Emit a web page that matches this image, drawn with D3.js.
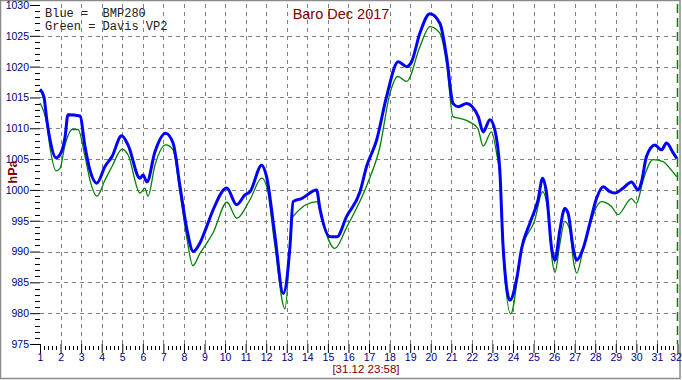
<html lang="en"><head>
<meta charset="utf-8">
<title>Baro Dec 2017</title>
<script src="https://d3js.org/d3.v7.min.js"></script>
<style>
  body { margin: 0; background: #fff; }
  svg { display: block; }
</style>
</head>
<body>
<div id="chart"></div>
<script>

// BMP280 (blue) readings: day of month -> hPa
const bmpDays = [1.00, 1.19, 1.33, 1.49, 1.78, 1.97, 2.22, 2.36, 2.94, 3.19, 3.43, 3.76, 4.16, 4.50, 4.97, 5.28, 5.86, 6.01, 6.20, 6.59,
  7.11, 7.47, 7.81, 8.15, 8.45, 8.78, 9.10, 9.41, 10.08, 10.56, 10.97, 11.21, 11.78, 12.02, 12.42, 12.83, 13.15, 13.31, 13.72, 14.45,
  14.61, 15.10, 15.44, 15.91, 16.56, 16.88, 17.37, 17.85, 18.42, 18.83, 19.07, 19.47, 19.96, 20.45, 20.77, 21.09, 21.34, 21.74, 22.31, 22.55,
  22.88, 23.12, 23.36, 23.52, 23.85, 24.17, 24.42, 24.82, 25.22, 25.44, 25.63, 25.88, 26.04, 26.28, 26.52, 26.68, 26.93, 27.09, 27.41, 27.74,
  28.06, 28.39, 28.71, 28.95, 29.36, 29.76, 30.09, 30.25, 30.49, 30.90, 31.22, 31.47, 31.79, 31.97];
const bmpValues = [1016.3, 1015.1, 1011.4, 1008.1, 1005.2, 1005.7, 1008.6, 1012.2, 1012.0, 1007.0, 1003.2, 1001.1, 1003.8, 1005.4, 1008.8, 1007.3, 1001.9, 1002.4, 1001.3, 1006.2,
  1009.2, 1007.6, 1000.5, 993.5, 990.0, 991.4, 994.0, 996.7, 1000.3, 997.6, 999.2, 999.7, 1004.0, 1002.1, 992.7, 983.2, 990.6, 998.1, 998.6, 1000.0,
  997.0, 992.4, 992.4, 995.7, 999.7, 1003.8, 1008.1, 1015.1, 1020.8, 1020.0, 1020.8, 1025.4, 1028.6, 1027.0, 1021.6, 1014.0, 1013.5, 1014.0, 1011.9, 1009.4,
  1011.4, 1009.7, 1003.2, 990.8, 982.1, 985.4, 990.5, 994.6, 998.4, 1001.9, 999.5, 990.5, 988.6, 993.5, 997.0, 996.2, 990.5, 988.6, 990.5, 994.6,
  998.6, 1000.5, 999.7, 999.5, 1000.3, 1001.3, 1000.0, 1001.3, 1005.4, 1007.3, 1006.5, 1007.6, 1006.0, 1005.1];

// Davis VP2 (green) readings
const vp2Days = [1.00, 1.33, 1.49, 1.78, 1.97, 2.22, 2.56, 2.85, 3.19, 3.43, 3.77, 4.16, 4.50, 4.99, 5.28, 5.86, 6.10, 6.25, 6.59, 7.12,
  7.47, 7.81, 8.15, 8.43, 8.78, 9.12, 9.41, 10.09, 10.57, 11.21, 11.78, 12.03, 12.42, 12.91, 13.30, 14.47, 14.71, 15.34, 15.92, 16.90,
  17.53, 18.02, 18.40, 18.83, 19.47, 19.96, 20.45, 20.79, 21.08, 21.42, 21.90, 22.29, 22.55, 22.95, 23.20, 23.36, 23.52, 23.89, 24.42, 25.06,
  25.44, 25.71, 25.89, 26.04, 26.28, 26.52, 26.76, 26.96, 27.10, 27.41, 28.30, 28.79, 29.11, 29.76, 30.00, 30.33, 30.81, 31.30, 31.70, 31.97];
const vp2Values = [1014.1, 1010.7, 1006.8, 1003.1, 1003.5, 1007.3, 1009.8, 1009.8, 1005.4, 1001.6, 999.0, 1001.6, 1003.8, 1006.6, 1005.7, 999.5, 1000.3, 999.0, 1004.0, 1007.3,
  1006.5, 999.5, 992.0, 987.7, 989.7, 991.4, 993.0, 998.0, 995.4, 998.4, 1001.9, 1000.5, 991.0, 980.7, 995.7, 998.1, 995.1, 990.5, 994.0, 1000.8,
  1007.0, 1015.7, 1018.4, 1017.6, 1023.2, 1026.5, 1025.4, 1020.0, 1011.9, 1011.6, 1011.0, 1010.0, 1007.1, 1009.4, 1006.0, 1002.0, 990.0, 979.9, 990.3, 995.1,
  999.7, 996.2, 989.0, 986.6, 991.3, 994.9, 993.5, 988.0, 986.5, 990.3, 998.1, 997.3, 996.0, 998.6, 997.8, 1001.6, 1004.9, 1004.6, 1003.2, 1002.1];

const yTicks = [975, 980, 985, 990, 995, 1000, 1005, 1010, 1015, 1020, 1025, 1030];
const xTicks = d3.range(1, 33);

const W = 682, H = 380;

const svg = d3.select("#chart").append("svg")
  .attr("width", W).attr("height", H);

// outer frame
svg.append("rect").attr("x", 0.5).attr("y", 0.5).attr("width", 679.5).attr("height", 378)
  .attr("fill", "#fff").attr("stroke", "#8a8a8a").attr("stroke-width", 1.5);

const x = d3.scaleLinear().domain([1, 32]).range([40, 677.5]);
const y = d3.scaleLinear().domain([975, 1030]).range([344, 5]);

// grid
svg.append("g").selectAll("line").data(xTicks.slice(1, -1)).join("line")
  .attr("x1", d => Math.round(x(d)) + 0.5).attr("x2", d => Math.round(x(d)) + 0.5)
  .attr("y1", 4).attr("y2", 344)
  .attr("stroke", "#808080").attr("stroke-dasharray", "4,4");
svg.append("g").selectAll("line").data(yTicks.slice(1, -1)).join("line")
  .attr("x1", 40).attr("x2", 678)
  .attr("y1", d => Math.round(y(d)) + 0.5).attr("y2", d => Math.round(y(d)) + 0.5)
  .attr("stroke", "#808080").attr("stroke-dasharray", "4,4");

// end-of-month marker
svg.append("line")
  .attr("x1", Math.round(x(32)) - 0.5).attr("x2", Math.round(x(32)) - 0.5)
  .attr("y1", 4).attr("y2", 344)
  .attr("stroke", "#008000").attr("stroke-width", 1.5).attr("stroke-dasharray", "9,5");

// y axis
const yAxis = svg.append("g").attr("transform", "translate(40,0)")
  .call(d3.axisLeft(y).tickValues(yTicks).tickSize(10).tickFormat(d3.format("d")));
yAxis.select(".domain").remove();
yAxis.selectAll(".tick line").attr("stroke", "#000");
yAxis.selectAll("text").attr("fill", "#000080").style("font", "10.5px Arial, 'Liberation Sans', sans-serif").attr("x", -11);
svg.append("g").selectAll("line").data(d3.range(976, 1030).filter(v => v % 5 !== 0)).join("line")
  .attr("x1", 35).attr("x2", 40)
  .attr("y1", d => Math.round(y(d)) + 0.5).attr("y2", d => Math.round(y(d)) + 0.5)
  .attr("stroke", "#000");

// x axis
const xAxis = svg.append("g").attr("transform", "translate(0,344)")
  .call(d3.axisBottom(x).tickValues(xTicks).tickSize(9).tickFormat(d3.format("d")));
xAxis.select(".domain").remove();
xAxis.selectAll(".tick line").attr("stroke", "#000");
xAxis.selectAll("text").attr("fill", "#000080").style("font", "10.5px Arial, 'Liberation Sans', sans-serif").attr("y", 10);
xAxis.selectAll(".tick:last-of-type text").attr("dx", -2);
const minor = [];
xTicks.slice(0, -1).forEach(d => { for (let k = 1; k < 5; k++) minor.push(d + k / 5); });
svg.append("g").selectAll("line").data(minor).join("line")
  .attr("x1", d => Math.round(x(d)) + 0.5).attr("x2", d => Math.round(x(d)) + 0.5)
  .attr("y1", 346).attr("y2", 350)
  .attr("stroke", "#000");

// series
const line = (days) => d3.line().curve(d3.curveMonotoneX).x((d, i) => x(days[i])).y(d => y(d));
svg.append("path").datum(vp2Values).attr("d", line(vp2Days))
  .attr("fill", "none").attr("stroke", "#008000").attr("stroke-width", 1.3);
svg.append("path").datum(bmpValues).attr("d", line(bmpDays))
  .attr("fill", "none").attr("stroke", "#0000ff").attr("stroke-width", 3);

// labels
svg.append("text").attr("x", 341).attr("y", 19).attr("text-anchor", "middle")
  .attr("fill", "#800000").style("font", "14.5px Arial, 'Liberation Sans', sans-serif")
  .text("Baro Dec 2017");

const legend = ["Blue =  BMP280", "Green = Davis VP2"];
svg.append("g").selectAll("text").data(legend).join("text")
  .attr("x", 45).attr("y", (d, i) => 17 + i * 13)
  .attr("fill", "#202020").style("font", "12px 'Liberation Mono', 'Courier New', monospace")
  .style("white-space", "pre").attr("xml:space", "preserve")
  .text(d => d);

svg.append("text").attr("transform", "translate(17,172) rotate(-90)").attr("text-anchor", "middle")
  .attr("fill", "#800000").style("font", "bold 12.5px Arial, 'Liberation Sans', sans-serif")
  .text("hPa");

svg.append("text").attr("x", 366).attr("y", 373).attr("text-anchor", "middle")
  .attr("fill", "#800000").style("font", "11.5px Arial, 'Liberation Sans', sans-serif")
  .text("[31.12 23:58]");

</script>
</body>
</html>
